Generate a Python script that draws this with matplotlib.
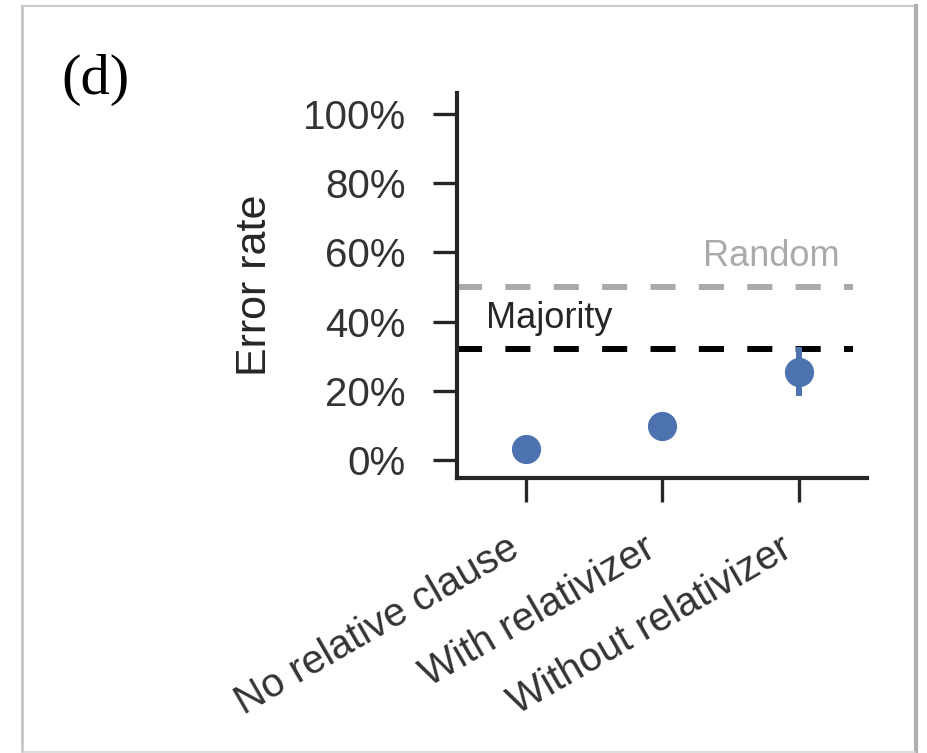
import matplotlib
matplotlib.use("Agg")
import matplotlib.pyplot as plt
from matplotlib.lines import Line2D
import numpy as np

# data
conditions = ["No relative clause", "With relativizer", "Without relativizer"]
error_rate = [3.4, 9.9, 25.5]       # %
ci_low = [2.0, 8.5, 18.5]
ci_high = [5.0, 11.5, 32.7]
random_baseline = 50.0
majority_baseline = 32.1
yticks = [0, 20, 40, 60, 80, 100]

blue = "#4C72B0"
dark = "#262626"

plt.rcParams["font.family"] = ["Liberation Sans", "DejaVu Sans"]

fig = plt.figure(figsize=(9.28, 7.53), dpi=100)
ax = fig.add_axes([0.4928, 0.3656, 0.4412, 0.5109])

x = np.arange(len(conditions))
err = [np.array(error_rate) - np.array(ci_low), np.array(ci_high) - np.array(error_rate)]
ax.errorbar(x, error_rate, yerr=err, fmt="o", color=blue, ms=20,
            elinewidth=4.3, capsize=0, zorder=3)

ax.hlines(random_baseline, -0.5, 2.4, colors="#aaaaaa", linestyles=(0, (4.2, 3.9)), lw=4.3, zorder=2)
ax.hlines(majority_baseline, -0.5, 2.4, colors="black", linestyles=(0, (4.2, 3.9)), lw=4.3, zorder=2)
ax.text(2.30, 56.2, "Random", color="#aaaaaa", fontsize=26, ha="right", va="baseline")
ax.text(-0.29, 38.1, "Majority", color=dark, fontsize=26, ha="left", va="baseline")

ax.set_xlim(-0.5, 2.5)
ax.set_ylim(-5, 106)
ax.set_yticks(yticks)
ax.set_yticklabels([f"{v}%" for v in yticks])
ax.set_xticks(x)
ax.set_xticklabels(conditions, rotation=30, ha="right")
ax.set_ylabel("Error rate", fontsize=31, color=dark, labelpad=20)

for side in ["top", "right"]:
    ax.spines[side].set_visible(False)
for side in ["left", "bottom"]:
    ax.spines[side].set_linewidth(3)
    ax.spines[side].set_color(dark)
ax.tick_params(axis="both", length=17, width=2.4, color=dark, labelsize=29,
               labelcolor="#333333", pad=20)

# panel letter
fig.text(96 / 928, 1 - 80 / 753, "(d)", family="Liberation Serif", fontsize=42,
         ha="center", va="center", color="black")

# page frame around the panel
W, H = 928, 753
fig.add_artist(Line2D([22 / W, 22 / W], [0, 1 - 6 / H], transform=fig.transFigure, color="#c0c0c0", lw=1.8))
fig.add_artist(Line2D([22 / W, 915 / W], [1 - 6 / H, 1 - 6 / H], transform=fig.transFigure, color="#cccccc", lw=1.5))
fig.add_artist(Line2D([916 / W, 916 / W], [0, 1 - 6 / H], transform=fig.transFigure, color="#b0b0b0", lw=3))
fig.add_artist(Line2D([22 / W, 915 / W], [1 / H, 1 / H], transform=fig.transFigure, color="#d8d8d8", lw=1.2))

fig.savefig("out.png", dpi=100)
